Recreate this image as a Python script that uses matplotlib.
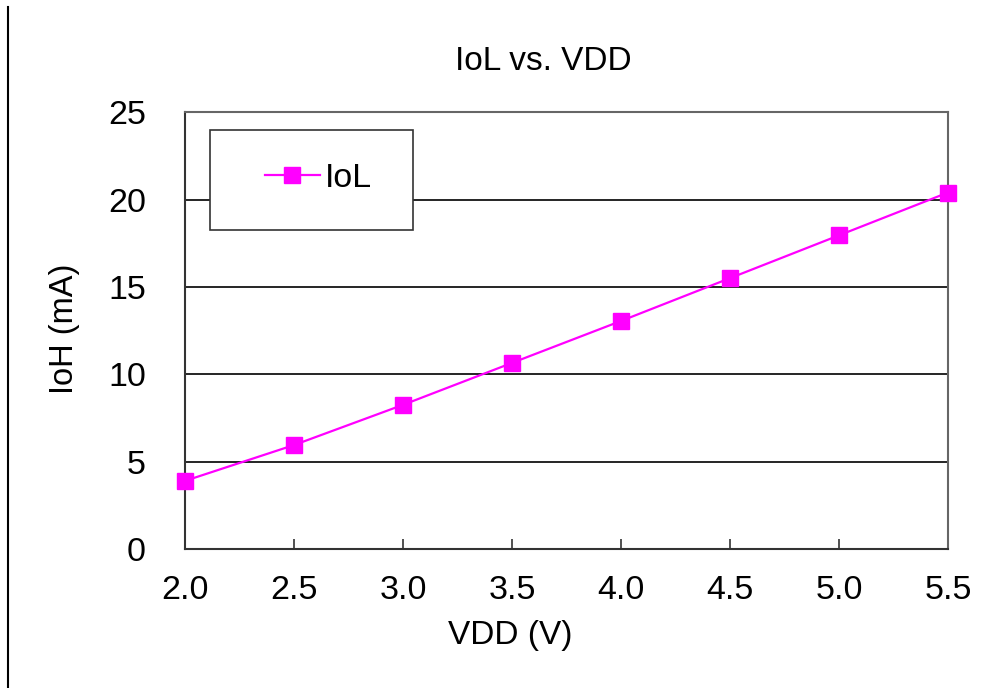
import matplotlib.pyplot as plt
from matplotlib.patches import Rectangle
from matplotlib.lines import Line2D

plt.rcParams['font.family'] = ['Liberation Sans', 'DejaVu Sans']

vdd = [2.0, 2.5, 3.0, 3.5, 4.0, 4.5, 5.0, 5.5]
iol = [3.9, 5.95, 8.25, 10.65, 13.05, 15.5, 17.95, 20.4]
x_ticks = [2.0, 2.5, 3.0, 3.5, 4.0, 4.5, 5.0, 5.5]
y_ticks = [0, 5, 10, 15, 20, 25]

fig = plt.figure(figsize=(10, 6.88), dpi=100)
ax = fig.add_axes([0.185, 0.202, 0.763, 0.635])

ax.plot(vdd, iol, color='#FF00FF', linewidth=1.6, marker='s', markersize=11.5,
        markeredgecolor='#FF00FF', label='IoL', clip_on=False, zorder=3)

ax.set_xlim(2.0, 5.5)
ax.set_ylim(0, 25)
ax.set_xticks(x_ticks)
ax.set_xticklabels(['%.1f' % t for t in x_ticks])
ax.set_yticks(y_ticks)
ax.tick_params(axis='x', direction='in', length=7, width=1.2, colors='#333333',
               labelsize=24.5, labelcolor='black', pad=19)
ax.tick_params(axis='y', length=0, labelsize=24.5, pad=28)
ax.yaxis.grid(True, color='black', linewidth=1.2)
ax.set_axisbelow(True)
for side in ['left', 'bottom']:
    ax.spines[side].set_color('#333333')
    ax.spines[side].set_linewidth(1.5)
for side in ['top', 'right']:
    ax.spines[side].set_color('#666666')
    ax.spines[side].set_linewidth(1.5)

ax.set_title('IoL vs. VDD', fontsize=24, x=0.47, pad=30)
ax.set_xlabel('VDD (V)', fontsize=24)
ax.xaxis.set_label_coords(0.426, -0.163)
ax.set_ylabel('IoH (mA)', fontsize=23.5)
ax.yaxis.set_label_coords(-0.137, 0.505)

# legend box
box = Rectangle((0.033, 0.73), 0.266, 0.23, transform=ax.transAxes,
                facecolor='white', edgecolor='#333333', linewidth=1.2, zorder=4)
ax.add_patch(box)
handle = Line2D([], [], color='#FF00FF', linewidth=1.6, marker='s', markersize=11.5)
ax.legend([handle], ['IoL'], loc='center', bbox_to_anchor=(0.175, 0.848),
          frameon=False, fontsize=24.5, handlelength=1.6, handletextpad=0.15)

# left border line of the image
fig.add_artist(Line2D([0.008, 0.008], [0, 0.99], color='black', linewidth=1.5,
                      transform=fig.transFigure))

fig.savefig('out.png', dpi=100)
